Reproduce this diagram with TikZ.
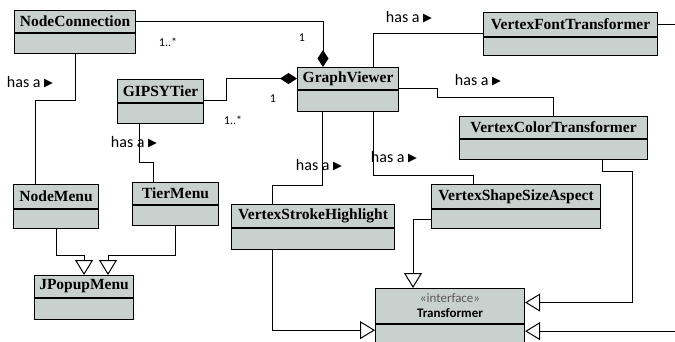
\documentclass[tikz,border=0pt]{standalone}
\usepackage{fontspec}
\setmainfont{Liberation Serif}
\newfontfamily\labfont{Carlito}
\newfontfamily\symfont{DejaVu Sans}
\usetikzlibrary{arrows.meta}
\definecolor{clsfill}{RGB}{201,209,206}
\newcommand{\hasarrow}{has a {\symfont\fontsize{11.5}{11.5}\selectfont\raisebox{0.5pt}{▶}}}

\begin{document}
\begin{tikzpicture}[x=1pt, y=-1pt,
    cls/.style={draw, line width=1.1pt, fill=clsfill, anchor=north west, inner sep=0pt,
        font=\fontsize{15.5}{16}\selectfont\bfseries},
    clsbody/.style={draw, line width=1.1pt, fill=clsfill, anchor=north, inner sep=0pt},
    conn/.style={line width=1pt},
    comp/.style={conn, -{Diamond[length=17pt, width=11pt]}},
    inh/.style={conn, -{Triangle[length=15pt, width=18pt, fill=white]}},
    rel/.style={font=\labfont\fontsize{16}{16}\selectfont, inner sep=0pt},
    mult/.style={font=\labfont\fontsize{12}{12}\selectfont, inner sep=0pt}]
    \fill[white] (0,0) rectangle (675,342);
    \useasboundingbox (0,0) rectangle (675,342);
    \coordinate (redge) at (675,0);

    % classes
    \node[cls, minimum width=121pt, minimum height=22pt] (ncon) at (14,10) {NodeConnection};
    \node[clsbody, minimum width=121pt, minimum height=20pt] (ncon-b) at (ncon.south) {};
    \node[cls, minimum width=86pt, minimum height=23pt] (gipsy) at (117,79) {GIPSYTier};
    \node[clsbody, minimum width=86pt, minimum height=20pt] (gipsy-b) at (gipsy.south) {};
    \node[cls, minimum width=101pt, minimum height=22pt] (gv) at (297,67) {GraphViewer};
    \node[clsbody, minimum width=101pt, minimum height=21pt] (gv-b) at (gv.south) {};
    \node[cls, minimum width=174pt, minimum height=24pt] (vft) at (483,12) {VertexFontTransformer};
    \node[clsbody, minimum width=174pt, minimum height=18pt] (vft-b) at (vft.south) {};
    \node[cls, minimum width=188pt, minimum height=22pt] (vct) at (459,116) {VertexColorTransformer};
    \node[clsbody, minimum width=188pt, minimum height=20pt] (vct-b) at (vct.south) {};
    \node[cls, minimum width=85pt, minimum height=24pt] (nmenu) at (13,184) {NodeMenu};
    \node[clsbody, minimum width=85pt, minimum height=19pt] (nmenu-b) at (nmenu.south) {};
    \node[cls, minimum width=86pt, minimum height=22pt] (tmenu) at (132,182) {TierMenu};
    \node[clsbody, minimum width=86pt, minimum height=20pt] (tmenu-b) at (tmenu.south) {};
    \node[cls, minimum width=99pt, minimum height=22pt] (jpop) at (34,275) {JPopupMenu};
    \node[clsbody, minimum width=99pt, minimum height=21pt] (jpop-b) at (jpop.south) {};
    \node[cls, minimum width=163pt, minimum height=23pt] (vsh) at (231,204) {VertexStrokeHighlight};
    \node[clsbody, minimum width=163pt, minimum height=21pt] (vsh-b) at (vsh.south) {};
    \node[cls, minimum width=169pt, minimum height=24pt] (vssa) at (431,184) {VertexShapeSizeAspect};
    \node[clsbody, minimum width=169pt, minimum height=19pt] (vssa-b) at (vssa.south) {};
    \node[cls, minimum width=149pt, minimum height=35pt, align=center,
        font=\labfont\fontsize{13}{15}\selectfont] (trans) at (375,288)
        {\textcolor{black!65}{«interface»}\\ \bfseries Transformer};
    \node[clsbody, minimum width=149pt, minimum height=20pt] (trans-b) at (trans.south) {};

    % composition
    \draw[comp] (ncon.east) -| ([xshift=26pt]gv.north west);
    \draw[comp] ([yshift=-9pt]gipsy.east) -- ++(22,0) |- (gv.west);
    \node[mult] (m1) at (168,42) {1..*};
    \node[mult] (m2) at (302,38) {1};
    \node[mult] (m3) at (273,99) {1};
    \node[mult] (m4) at (233,120) {1..*};

    % has a
    \draw[conn] (ncon-b.south) -- ++(0,46) -| ([xshift=22pt]nmenu.north west);
    \draw[conn] ([xshift=22pt]gipsy-b.south west) -- ++(0,38) -| ([xshift=21pt]tmenu.north west);
    \draw[conn] ([xshift=76pt]gv.north west) |- ([yshift=-9pt]vft.west);
    \draw[conn] ([yshift=-10pt]gv.east) -- ++(38,0) -- ++(0,9) -| (vct.north);
    \draw[conn] ([xshift=25pt]gv-b.south west) -- ++(0,73) -| ([xshift=41pt]vsh.north west);
    \draw[conn] ([xshift=76pt]gv-b.south west) -- ++(0,63) -| ([xshift=42pt]vssa.north west);
    \node[rel] (h1) at (30,82) {\hasarrow};
    \node[rel] (h2) at (134,142) {\hasarrow};
    \node[rel] (h3) at (409,17) {\hasarrow};
    \node[rel] (h4) at (478,80) {\hasarrow};
    \node[rel] (h5) at (319,165) {\hasarrow};
    \node[rel] (h6) at (394,157) {\hasarrow};

    % inheritance
    \draw[inh] (nmenu-b.south) -- ++(0,26) -| (jpop.north);
    \draw[inh] (tmenu-b.south) -- ++(0,29) -| ([xshift=74pt]jpop.north west);
    \draw[inh] ([xshift=143pt]vct-b.south west) -- ++(0,11) -- ++(30,0) |- ([yshift=3.5pt]trans.east);
    \draw[conn] (vft.east) -- (vft.east -| redge);
    \coordinate (tin) at ([yshift=3.5pt]trans-b.east);
    \draw[inh] (tin -| redge) -- (tin);
    \draw[inh] (vssa-b.west) -| ([xshift=38pt]trans.north west);
    \draw[inh] ([xshift=41pt]vsh-b.south west) |- ([yshift=4.5pt]trans-b.west);
\end{tikzpicture}
\end{document}
